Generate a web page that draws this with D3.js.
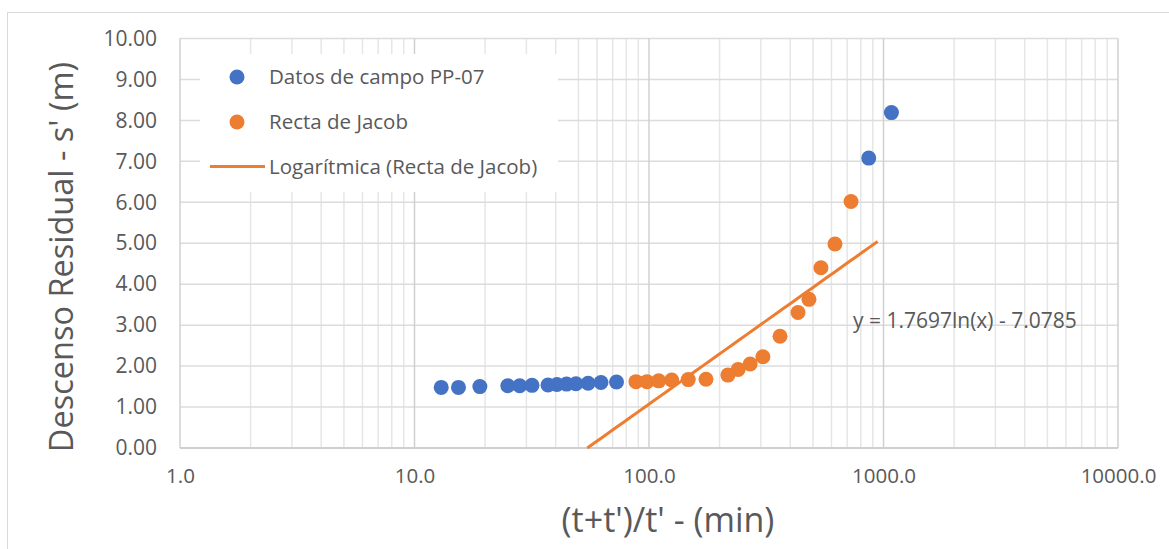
<!DOCTYPE html>
<html>
<head>
<meta charset="utf-8">
<script src="https://cdn.jsdelivr.net/npm/d3@7"></script>
<style>
  html, body { margin: 0; padding: 0; background: #ffffff; }
  svg { display: block; font-family: "Open Sans", sans-serif; }
</style>
</head>
<body>
<svg id="chart" width="1169" height="549"></svg>
<script>
// Field data, well PP-07: (t+t')/t' in minutes vs residual drawdown s' (m)
const campoX = [13.0, 15.4, 19.0, 25.0, 28.1, 31.7, 37.1, 40.5, 44.5, 48.8, 55.0, 62.4, 72.7, 865, 1081];
const campoY = [1.48, 1.48, 1.50, 1.52, 1.52, 1.53, 1.54, 1.55, 1.56, 1.57, 1.58, 1.60, 1.61, 7.08, 8.19];

// Points used for the Jacob straight-line fit
const jacobX = [88, 98, 110, 125, 147, 175, 217, 240, 270, 306, 362, 432, 481, 541, 621, 727];
const jacobY = [1.62, 1.62, 1.64, 1.66, 1.67, 1.68, 1.78, 1.92, 2.05, 2.23, 2.73, 3.31, 3.63, 4.40, 4.98, 6.02];

// Logarithmic trendline y = a ln(x) + b
const trendA = 1.7697;
const trendB = -7.0785;
const trendEnd = 944;

const xTicks = [1, 10, 100, 1000, 10000];
const yTicks = [0, 1, 2, 3, 4, 5, 6, 7, 8, 9, 10];

const legendLabels = ["Datos de campo PP-07", "Recta de Jacob", "Logarítmica (Recta de Jacob)"];
const xTitle = "(t+t')/t' - (min)";
const yTitle = "Descenso Residual - s' (m)";
const eqLabel = "y = 1.7697ln(x) - 7.0785";

const BLUE = "#4472C4", ORANGE = "#ED7D31", TEXT = "#595959";

const svg = d3.select("#chart");
const plot = { left: 180, right: 1118, top: 38.5, bottom: 448 };

const x = d3.scaleLog().domain([1, 10000]).range([plot.left, plot.right]);
const y = d3.scaleLinear().domain([0, 10]).range([plot.bottom, plot.top]);

// Outer chart frame
svg.append("rect")
  .attr("x", 7.5).attr("y", 12.5).attr("width", 1200).attr("height", 600)
  .attr("fill", "#ffffff").attr("stroke", "#d9d9d9").attr("stroke-width", 1);

const grid = svg.append("g");

// Minor vertical gridlines (2..9 within each decade)
const minor = [];
for (let k = 0; k < 4; k++) for (let m = 2; m <= 9; m++) minor.push(m * Math.pow(10, k));
grid.selectAll("line.minor").data(minor).join("line")
  .attr("class", "minor")
  .attr("x1", d => x(d)).attr("x2", d => x(d))
  .attr("y1", plot.top).attr("y2", plot.bottom)
  .attr("stroke", "#e6e6e6").attr("stroke-width", 1.5);

// Horizontal gridlines
grid.selectAll("line.hy").data(yTicks).join("line")
  .attr("class", "hy")
  .attr("x1", plot.left).attr("x2", plot.right)
  .attr("y1", d => y(d)).attr("y2", d => y(d))
  .attr("stroke", "#dcdcdc").attr("stroke-width", 1.5);

// Major vertical gridlines (decades)
grid.selectAll("line.major").data(xTicks).join("line")
  .attr("class", "major")
  .attr("x1", d => x(d)).attr("x2", d => x(d))
  .attr("y1", plot.top).attr("y2", plot.bottom)
  .attr("stroke", "#d0d0d0").attr("stroke-width", 1.5);

// Bottom axis line
grid.append("line")
  .attr("x1", plot.left).attr("x2", plot.right)
  .attr("y1", plot.bottom).attr("y2", plot.bottom)
  .attr("stroke", "#cfcfcf").attr("stroke-width", 2);

// Y axis
const yAxis = svg.append("g")
  .attr("transform", `translate(${plot.left},0)`)
  .call(d3.axisLeft(y).tickValues(yTicks).tickFormat(d3.format(".2f")).tickSize(0).tickPadding(23));
yAxis.select(".domain").remove();
yAxis.selectAll("text")
  .attr("fill", TEXT).style("font-size", "21px").style("font-family", "Open Sans, sans-serif");

// X axis
const xAxis = svg.append("g")
  .attr("transform", `translate(0,${plot.bottom})`)
  .call(d3.axisBottom(x).tickValues(xTicks).tickFormat(d3.format(".1f")).tickSize(0).tickPadding(20));
xAxis.select(".domain").remove();
xAxis.selectAll("text")
  .attr("fill", TEXT).style("font-size", "20.5px").style("font-family", "Open Sans, sans-serif");

// Legend background
svg.append("rect")
  .attr("x", 200).attr("y", 54).attr("width", 358).attr("height", 138)
  .attr("fill", "#ffffff");

// Series markers
svg.append("g").selectAll("circle").data(campoX.map((v, i) => [v, campoY[i]])).join("circle")
  .attr("cx", d => x(d[0])).attr("cy", d => y(d[1])).attr("r", 7.5)
  .attr("fill", BLUE);

svg.append("g").selectAll("circle").data(jacobX.map((v, i) => [v, jacobY[i]])).join("circle")
  .attr("cx", d => x(d[0])).attr("cy", d => y(d[1])).attr("r", 7.5)
  .attr("fill", ORANGE);

// Trendline from the fitted equation, clipped at s' = 0
const trendStart = Math.exp(-trendB / trendA);
const trendPts = d3.range(0, 41).map(i => {
  const lx = Math.log10(trendStart) + (Math.log10(trendEnd) - Math.log10(trendStart)) * i / 40;
  const xv = Math.pow(10, lx);
  return [xv, trendA * Math.log(xv) + trendB];
});
svg.append("path")
  .datum(trendPts)
  .attr("d", d3.line().x(d => x(d[0])).y(d => y(d[1])))
  .attr("fill", "none").attr("stroke", ORANGE).attr("stroke-width", 3);

// Equation label
svg.append("text")
  .attr("x", 853).attr("y", 321).attr("dy", "0.35em")
  .attr("fill", TEXT).style("font-size", "21px")
  .text(eqLabel);

// Legend entries
const leg = svg.append("g");
const legY = [77, 122, 166.5];
leg.append("circle").attr("cx", 237).attr("cy", legY[0]).attr("r", 7.5).attr("fill", BLUE);
leg.append("circle").attr("cx", 237).attr("cy", legY[1]).attr("r", 7.5).attr("fill", ORANGE);
leg.append("line").attr("x1", 210).attr("x2", 265).attr("y1", legY[2]).attr("y2", legY[2])
  .attr("stroke", ORANGE).attr("stroke-width", 3);
leg.selectAll("text").data(legendLabels).join("text")
  .attr("x", 269).attr("y", (d, i) => legY[i]).attr("dy", "0.35em")
  .attr("fill", TEXT).style("font-size", "20.5px")
  .text(d => d);

// Axis titles
svg.append("text")
  .attr("x", 668).attr("y", 520).attr("dy", "0.35em")
  .attr("text-anchor", "middle").attr("fill", TEXT).style("font-size", "34px")
  .text(xTitle);

svg.append("text")
  .attr("transform", "translate(62,257) rotate(-90)")
  .attr("dy", "0.35em")
  .attr("text-anchor", "middle").attr("fill", TEXT).style("font-size", "32.5px")
  .text(yTitle);
</script>
</body>
</html>
